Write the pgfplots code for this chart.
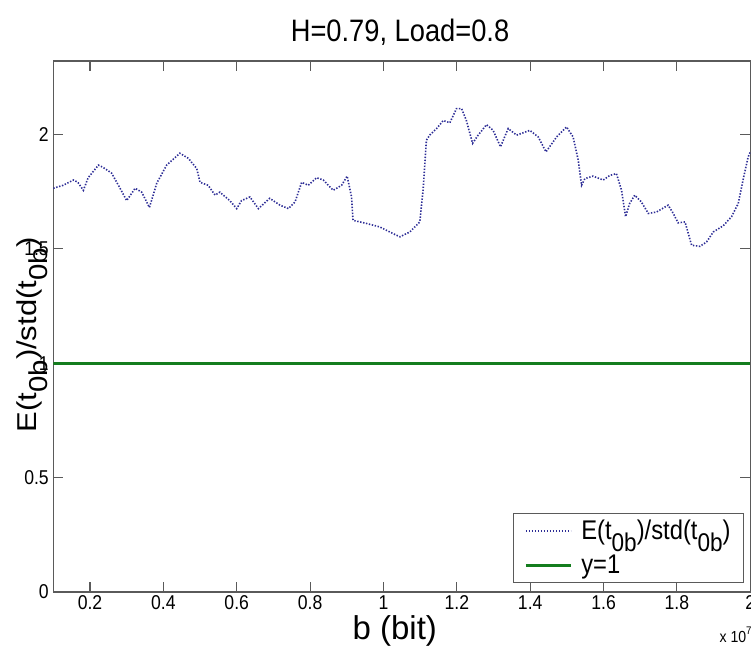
\documentclass[border=0pt]{standalone}
\usepackage{fontspec}
\setmainfont{Liberation Sans}[FakeStretch=0.88]
\newfontfamily\uprightsans{Liberation Sans}
\usepackage{graphicx}
\usepackage{pgfplots}
\pgfplotsset{compat=1.18}

\definecolor{curveblue}{RGB}{45,45,150}
\definecolor{linegreen}{RGB}{20,125,30}
\definecolor{axgray}{RGB}{90,90,90}

% lowered, near full-size subscript
\newcommand{\sbs}[1]{\raisebox{-0.42em}{\scalebox{0.95}{#1}}}

\begin{document}
\begin{tikzpicture}[x=1pt,y=1pt]
\path[use as bounding box] (0,0) rectangle (751,646);
\begin{axis}[
  at={(53.3pt,54pt)}, anchor=south west,
  scale only axis, width=697pt, height=531pt,
  xmin=0.1, xmax=2, ymin=0, ymax=2.32,
  clip mode=individual,
  xtick={0.2,0.4,0.6,0.8,1,1.2,1.4,1.6,1.8,2},
  ytick={0,0.5,1,1.5,2},
  tick align=inside, major tick length=10pt,
  axis line style={axgray, line width=1.2pt},
  every tick/.style={axgray, line width=1.1pt},
  /pgf/number format/assume math mode=true,
  tick label style={font=\fontsize{20}{24}\selectfont},
  yticklabel style={xshift=-1pt},
  scaled ticks=false,
  title={H=0.79, Load=0.8},
  title style={font=\fontsize{31}{36}\selectfont, at={(axis description cs:0.4975,1.025)}, anchor=base},
  xlabel={\uprightsans b (bit)},
  xlabel style={font=\fontsize{33}{38}\selectfont, at={(axis description cs:0.49,-0.0885)}, anchor=base},
  ylabel={\scalebox{1}[0.88]{\uprightsans\fontsize{31}{35}\selectfont E(t\sbs{0b})/std(t\sbs{0b})}},
  ylabel style={at={(axis description cs:-0.0306,0.484)}, anchor=center, rotate=0},
  legend style={at={(axis description cs:0.991,0.017)}, anchor=south east,
    draw=axgray, line width=1pt, fill=white,
    font=\fontsize{27}{31}\selectfont, inner xsep=11pt, inner ysep=5pt,
    row sep=10pt,
    /tikz/every odd column/.append style={column sep=7pt}},
  legend cell align=left,
  legend image code/.code={\draw[#1] (0pt,0pt) -- (45pt,0pt);},
]
\addplot[curveblue, line width=1.6pt, dash pattern=on 1.4pt off 1.6pt] coordinates {
(0.100,1.764) (0.127,1.777) (0.155,1.800) (0.167,1.790) (0.182,1.755)
(0.195,1.810) (0.223,1.865) (0.235,1.856) (0.259,1.830) (0.282,1.764)
(0.300,1.710) (0.323,1.764) (0.341,1.747) (0.362,1.680) (0.382,1.786)
(0.409,1.865) (0.445,1.917) (0.468,1.895) (0.491,1.850) (0.500,1.790)
(0.522,1.777) (0.541,1.734) (0.554,1.747) (0.581,1.710) (0.600,1.675)
(0.613,1.710) (0.636,1.726) (0.659,1.675) (0.690,1.720) (0.718,1.690)
(0.741,1.675) (0.759,1.704) (0.777,1.790) (0.795,1.777) (0.818,1.810)
(0.836,1.800) (0.863,1.755) (0.886,1.777) (0.901,1.817) (0.913,1.726)
(0.917,1.624) (0.954,1.610) (0.990,1.595) (1.026,1.566) (1.045,1.552)
(1.072,1.573) (1.099,1.617) (1.108,1.755) (1.117,1.974) (1.126,1.996)
(1.145,2.025) (1.163,2.060) (1.181,2.050) (1.199,2.112) (1.213,2.112)
(1.226,2.060) (1.243,1.960) (1.258,1.996) (1.281,2.042) (1.299,2.017)
(1.319,1.945) (1.340,2.025) (1.363,1.996) (1.399,2.017) (1.422,1.988)
(1.443,1.923) (1.472,1.988) (1.499,2.032) (1.517,1.988) (1.531,1.886)
(1.540,1.777) (1.549,1.806) (1.571,1.817) (1.599,1.800) (1.617,1.820)
(1.635,1.828) (1.649,1.755) (1.660,1.640) (1.671,1.697) (1.685,1.734)
(1.703,1.704) (1.722,1.654) (1.744,1.660) (1.776,1.690) (1.790,1.654)
(1.803,1.613) (1.822,1.617) (1.840,1.515) (1.863,1.510) (1.881,1.530)
(1.899,1.573) (1.926,1.600) (1.949,1.640) (1.967,1.697) (1.981,1.806)
(1.994,1.900) (2.000,1.923)
};
\addlegendentry{E(t\sbs{0b})/std(t\sbs{0b})}
\addplot[linegreen, line width=3pt] coordinates {(0.1,1) (2,1)};
\addlegendentry{y=1}
\node[anchor=base west, font=\fontsize{16}{18}\selectfont] at (axis description cs:0.9509,-0.096) {x 10\raisebox{0.5em}{\fontsize{11}{12}\selectfont 7}};
\end{axis}
\end{tikzpicture}
\end{document}
